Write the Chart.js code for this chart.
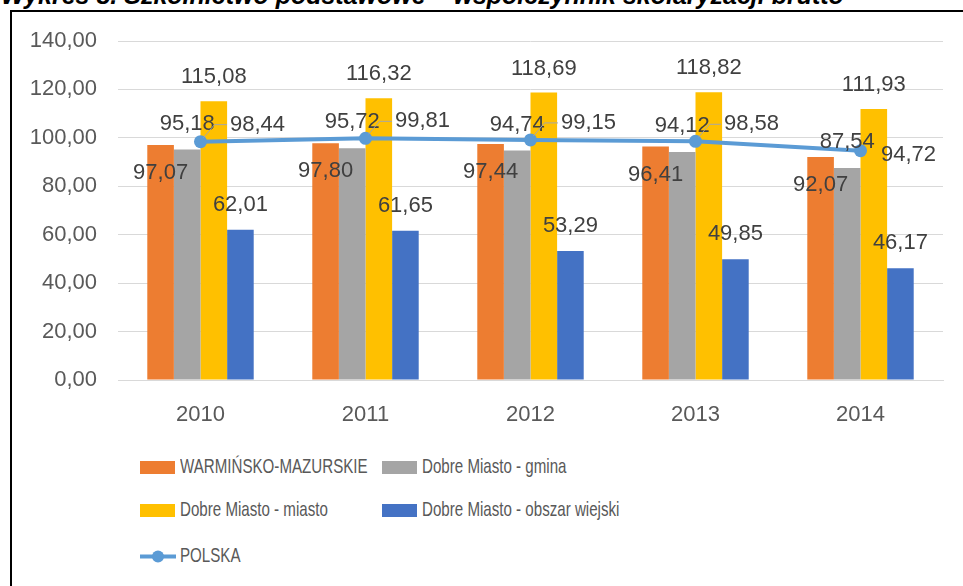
<!DOCTYPE html>
<html>
<head>
<meta charset="utf-8">
<script src="https://cdn.jsdelivr.net/npm/chart.js@4.4.0/dist/chart.umd.min.js"></script>
<style>
  html, body { margin: 0; padding: 0; background: #fff; }
  body { width: 963px; height: 586px; position: relative; overflow: hidden; }
  #title {
    position: absolute; left: 1px; top: -17px; white-space: nowrap;
    font: italic bold 25px "Liberation Sans", Arial, sans-serif; color: #000; line-height: 25px;
  }
  #frame {
    position: absolute; left: 10px; top: 10px; width: 970px; height: 600px;
    border: 2px solid #000; box-sizing: border-box;
  }
  #wrap { position: absolute; left: 0; top: 0; width: 963px; height: 440px; }
  .leg { position: absolute; font: 21px "Liberation Sans", Arial, sans-serif; color: #595959; white-space: nowrap; }
  .leg .box { position: absolute; left: 0; top: 2px; width: 35px; height: 13px; }
  .leg span.txt { position: absolute; left: 40px; top: -5px; transform: scaleX(0.72); transform-origin: left center; }
</style>
</head>
<body>
<div id="title">Wykres 8. Szkolnictwo podstawowe – współczynnik skolaryzacji brutto</div>
<div id="frame"></div>
<div id="wrap"><canvas id="myChart" width="963" height="440"></canvas></div>
<div id="legend"></div>
<script>
const years = ["2010", "2011", "2012", "2013", "2014"];
const warminsko = [97.07, 97.80, 97.44, 96.41, 92.07];
const gmina = [95.18, 95.72, 94.74, 94.12, 87.54];
const miasto = [115.08, 116.32, 118.69, 118.82, 111.93];
const wiejski = [62.01, 61.65, 53.29, 49.85, 46.17];
const polska = [98.44, 99.81, 99.15, 98.58, 94.72];

const fmt = (v) => v.toFixed(2).replace(".", ",");

// label offsets from the top of each bar (or from the point)
const barLabelOffsets = [28, -26, -24, -25];
const lineLabelOffsets = [
  { dx: 57, dy: -17 },
  { dx: 57, dy: -17 },
  { dx: 58, dy: -17 },
  { dx: 56, dy: -17 },
  { dx: 48, dy: 4 },
];

const dataLabels = {
  id: "dataLabels",
  afterDatasetsDraw(chart) {
    const ctx = chart.ctx;
    ctx.save();
    ctx.font = '22px "Liberation Sans", Arial, sans-serif';
    ctx.fillStyle = "#404040";
    ctx.textAlign = "center";
    ctx.textBaseline = "middle";
    chart.data.datasets.forEach((ds, i) => {
      const meta = chart.getDatasetMeta(i);
      meta.data.forEach((el, j) => {
        const text = fmt(ds.data[j]);
        if (ds.type === "line") {
          const off = lineLabelOffsets[j];
          const lx = el.x + off.dx;
          const ly = el.y + off.dy;
          if (off.dy < 0) {
            const w = ctx.measureText(text).width;
            ctx.strokeStyle = "#a6a6a6";
            ctx.lineWidth = 1;
            ctx.beginPath();
            ctx.moveTo(el.x + 3, el.y - 4);
            ctx.lineTo(el.x + 14, ly);
            ctx.lineTo(lx - w / 2 - 3, ly);
            ctx.stroke();
          }
          ctx.fillText(text, lx, ly);
        } else {
          ctx.fillText(text, el.x, el.y + barLabelOffsets[i]);
        }
      });
    });
    ctx.restore();
  },
};

const barDs = (label, data, color) => ({
  type: "bar",
  label: label,
  data: data,
  backgroundColor: color,
  borderWidth: 0,
  order: 1,
  categoryPercentage: 0.645,
  barPercentage: 1,
});

const chart = new Chart(document.getElementById("myChart"), {
  data: {
    labels: years,
    datasets: [
      barDs("WARMIŃSKO-MAZURSKIE", warminsko, "#ED7D31"),
      barDs("Dobre Miasto - gmina", gmina, "#A5A5A5"),
      barDs("Dobre Miasto - miasto", miasto, "#FFC000"),
      barDs("Dobre Miasto - obszar wiejski", wiejski, "#4472C4"),
      {
        type: "line",
        label: "POLSKA",
        data: polska,
        borderColor: "#5B9BD5",
        backgroundColor: "#5B9BD5",
        borderWidth: 4,
        pointRadius: 6.5,
        pointBorderWidth: 0,
        order: 0,
      },
    ],
  },
  options: {
    responsive: false,
    animation: false,
    layout: { padding: { top: 41, right: 20, left: 0, bottom: 0 } },
    plugins: { legend: { display: false }, tooltip: { enabled: false } },
    scales: {
      x: {
        offset: true,
        grid: { display: false },
        border: { color: "#d9d9d9", width: 1 },
        ticks: { color: "#595959", font: { family: "Liberation Sans", size: 22 }, padding: 14 },
        afterFit: (s) => { s.height = 60; },
      },
      y: {
        min: 0,
        max: 140,
        ticks: {
          stepSize: 20,
          color: "#595959",
          font: { family: "Liberation Sans", size: 22 },
          padding: 21,
          callback: (v) => fmt(v),
        },
        grid: { color: "#d9d9d9", lineWidth: 1, drawTicks: false },
        border: { display: false },
        afterFit: (s) => { s.width = 118; },
      },
    },
  },
  plugins: [dataLabels],
});

// legend in two columns like the original
const legendPos = [
  { x: 140, y: 459 },
  { x: 382, y: 459 },
  { x: 140, y: 502 },
  { x: 382, y: 502 },
  { x: 140, y: 548 },
];
const legend = document.getElementById("legend");
chart.data.datasets.forEach((ds, i) => {
  const item = document.createElement("div");
  item.className = "leg";
  item.style.left = legendPos[i].x + "px";
  item.style.top = legendPos[i].y + "px";
  if (ds.type === "line") {
    item.innerHTML =
      '<svg width="36" height="17" style="position:absolute;left:0;top:0">' +
      '<line x1="0" y1="8.5" x2="36" y2="8.5" stroke="' + ds.borderColor + '" stroke-width="4"/>' +
      '<circle cx="18" cy="8.5" r="6" fill="' + ds.borderColor + '"/></svg>' +
      '<span class="txt">' + ds.label + "</span>";
  } else {
    item.innerHTML =
      '<div class="box" style="background:' + ds.backgroundColor + '"></div>' +
      '<span class="txt">' + ds.label + "</span>";
  }
  legend.appendChild(item);
});
</script>
</body>
</html>
